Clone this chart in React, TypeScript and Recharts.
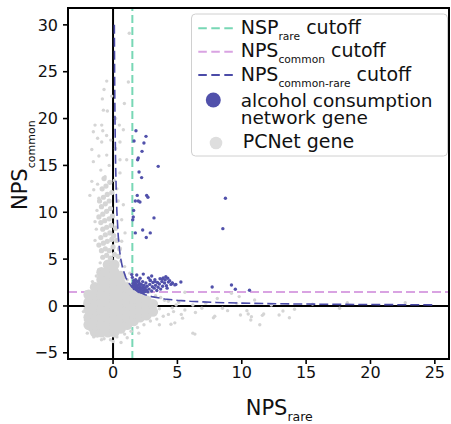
import { ScatterChart, Scatter, XAxis, YAxis, ReferenceLine, Label } from "recharts"

const FONT = "'DejaVu Sans', sans-serif"
const W = 451
const H = 424
// plot area box (the spines)
const PLOT = { left: 68, top: 8, right: 449, bottom: 359 }

const xTicks = [0, 5, 10, 15, 20, 25]
const yTicks = [-5, 0, 5, 10, 15, 20, 25, 30]
const xDomain = [-3.5, 26.1]
const yDomain = [-5.66, 31.8]

const nspRareCutoff = 1.5
const npsCommonCutoff = 1.5

// NPS_common-rare cutoff curve
const curveX = [0.1, 0.12, 0.15, 0.2, 0.25, 0.3, 0.4, 0.5, 0.6, 0.75, 1, 1.25, 1.5, 2, 2.5, 3, 4, 5, 6, 8, 10, 13, 16, 20, 25]
const curveY = [30, 25, 20, 15, 12, 10, 7.5, 6, 5, 4, 3, 2.4, 2, 1.5, 1.2, 1, 0.75, 0.6, 0.5, 0.375, 0.3, 0.23, 0.19, 0.15, 0.12]

// alcohol consumption network genes [NPS_rare, NPS_common]
const alcoholGenes: [number, number][] = [
  [1.78, 18.7], [2.56, 18.1], [1.63, 17.6], [2.4, 17.4], [2.25, 16.5], [1.96, 15.8], [1.91, 15.6],
  [3.51, 14.9], [2.02, 14.3], [2.22, 13.7], [1.88, 11.8], [2.61, 11.8], [2.71, 11.6], [1.73, 11.2],
  [1.96, 11.2], [2.09, 11.1], [8.73, 11.5], [1.6, 10.2], [1.57, 9.5], [3.18, 9.4], [1.53, 9.2],
  [8.53, 8.25], [1.73, 7.8], [2.3, 8.1], [2.89, 7.8], [2.58, 7.3],
  [7.7, 2.03], [9.2, 2.24], [9.5, 1.78], [10.6, 1.67], [5.27, 2.56], [4.88, 2.3],
  [1.5, 2.1], [1.55, 2.4], [1.6, 2.0], [1.6, 2.7], [1.65, 2.25], [1.7, 1.9], [1.7, 2.5], [1.75, 2.1],
  [1.8, 1.75], [1.8, 2.35], [1.85, 2.0], [1.9, 1.65], [1.9, 2.6], [1.95, 2.2], [2.0, 1.55], [2.0, 1.9],
  [2.05, 2.4], [2.1, 1.7], [2.1, 2.05], [2.15, 1.5], [2.2, 1.85], [2.2, 2.3], [2.25, 1.6], [2.3, 2.0],
  [2.35, 1.45], [2.4, 1.75], [2.4, 2.2], [2.5, 1.55], [2.5, 1.95], [2.55, 2.45], [2.6, 1.7], [2.65, 2.1],
  [2.7, 1.5], [1.65, 1.85], [1.75, 2.8], [2.0, 2.7], [2.3, 2.6],
  [2.8, 1.8], [2.85, 2.3], [2.9, 2.7], [3.0, 1.6], [3.05, 2.05], [3.1, 2.5], [3.2, 1.9], [3.25, 2.8],
  [3.3, 2.2], [3.4, 1.65], [3.45, 2.5], [3.5, 2.0], [3.6, 2.35], [3.65, 2.9], [3.7, 1.8], [3.8, 2.6],
  [3.85, 2.1], [3.9, 3.0], [2.75, 3.0], [3.0, 3.2],
  [4.0, 2.45], [4.05, 2.8], [4.15, 2.15], [4.25, 2.95], [4.3, 2.55], [4.4, 2.7], [4.5, 2.3], [4.6, 2.45],
  [4.2, 1.9], [4.8, 2.25], [4.1, 3.13], [4.6, 2.42],
  [1.45, 3.35], [1.5, 3.05], [1.84, 3.3], [2.1, 2.95], [2.35, 3.4], [2.87, 2.77], [3.26, 2.6], [3.82, 2.85],
]

// PCNet genes, dense core (drawn as big blobs)
const pcnetCore: [number, number][] = [
  [-1.9, -2.0], [-1.9, -1.2], [-1.9, -0.4], [-1.9, 0.4], [-1.9, 1.2],
  [-1.4, -2.8], [-1.4, -2.0], [-1.4, -1.2], [-1.4, -0.4], [-1.4, 0.4], [-1.4, 1.2], [-1.4, 2.0],
  [-0.9, -2.8], [-0.9, -2.0], [-0.9, -1.2], [-0.9, -0.4], [-0.9, 0.4], [-0.9, 1.2], [-0.9, 2.0], [-0.9, 2.8], [-0.9, 3.6],
  [-0.4, -2.8], [-0.4, -2.0], [-0.4, -1.2], [-0.4, -0.4], [-0.4, 0.4], [-0.4, 1.2], [-0.4, 2.0], [-0.4, 2.8], [-0.4, 3.6], [-0.4, 4.4],
  [0.1, -2.8], [0.1, -2.0], [0.1, -1.2], [0.1, -0.4], [0.1, 0.4], [0.1, 1.2], [0.1, 2.0], [0.1, 2.8], [0.1, 3.6], [0.1, 4.4],
  [0.6, -2.4], [0.6, -1.6], [0.6, -0.8], [0.6, 0.0], [0.6, 0.8], [0.6, 1.6], [0.6, 2.4], [0.6, 3.2],
  [1.1, -2.0], [1.1, -1.2], [1.1, -0.4], [1.1, 0.4], [1.1, 1.2], [1.1, 2.0],
  [1.6, -1.6], [1.6, -0.8], [1.6, 0.0], [1.6, 0.8], [1.6, 1.6],
  [2.1, -1.2], [2.1, -0.4], [2.1, 0.4], [2.1, 1.2],
  [2.6, -1.0], [2.6, -0.2], [2.6, 0.6],
  [3.1, -0.6], [3.1, 0.2],
]

// PCNet genes, plume above the core along NPS_rare ~ 0
const pcnetPlume: [number, number][] = [
  [-0.8, 5.2], [-0.5, 5.4], [-0.2, 5.1], [0.1, 5.5], [0.4, 5.3], [-0.9, 5.9], [-0.6, 6.1], [-0.3, 5.9],
  [0.0, 6.3], [0.5, 6.1], [-0.75, 6.7], [-0.45, 6.9], [-0.1, 7.1], [-0.95, 7.3], [-0.6, 7.6], [-0.25, 7.8],
  [0.05, 7.5], [-0.8, 8.2], [-0.5, 8.4], [-0.15, 8.6], [-0.95, 8.9], [-0.65, 9.1], [-0.3, 9.3], [-0.05, 9.6],
  [-0.8, 9.8], [-0.5, 10.1], [-0.2, 10.4], [-0.9, 10.6], [-0.6, 10.9], [-0.3, 11.2], [-0.75, 11.6],
  [-0.45, 11.9], [-0.1, 12.1], [-0.85, 12.5], [-0.55, 12.8], [-0.25, 13.2], [-0.7, 13.6], [-1.1, 6.5],
  [0.3, 7.0], [0.2, 8.3], [-1.1, 9.5], [-1.05, 11.2],
]

// PCNet genes, sparse points
const pcnetSparse: [number, number][] = [
  [1.26, 29.1], [1.19, 23.9], [-0.7, 23.1], [-0.49, 24.0], [-0.83, 22.1], [-0.44, 20.8], [0.88, 21.6],
  [-0.75, 20.9], [-1.4, 19.3], [-0.88, 19.3], [-0.8, 18.7], [-1.53, 18.6], [0.8, 18.8], [0.49, 19.3],
  [-0.18, 17.7], [-1.65, 16.7], [-0.88, 17.5], [0.54, 17.5], [-0.49, 16.1], [-1.53, 15.4], [-0.95, 14.5],
  [0.54, 15.6], [1.06, 15.6], [-1.65, 13.3], [-0.62, 13.8], [0.54, 14.2], [0.8, 10.8], [0.67, 9.2],
  [-1.4, 9.0], [0.93, 7.8], [-1.4, 7.0], [0.67, 6.9], [-1.2, 13.0], [-1.1, 11.5], [-1.25, 10.2],
  [0.3, 12.5], [0.2, 16.8], [-0.3, 15.0], [-1.1, 16.0], [0.1, 13.4], [-0.5, 18.2], [-1.2, 17.9],
  [0.2, 20.0], [-0.1, 22.4], [-1.8, 11.8], [-1.5, 12.4], [0.4, 11.2], [-1.3, 8.2],
  [-2.2, 0.2], [-2.3, -0.6], [-2.1, 1.5], [-2.15, -1.5], [-1.9, -2.4], [-1.78, -2.56], [-1.6, 2.6],
  [-1.3, 3.2], [-1.1, 3.9], [-1.0, 4.6], [-1.2, -3.2], [-0.7, -3.5], [-0.2, -3.6], [0.62, -3.9],
  [0.3, -3.3], [0.9, -3.0], [1.4, -2.7], [1.9, -2.3], [2.4, -2.0], [2.9, -1.6], [3.4, -1.4], [3.9, -1.1],
  [4.3, -0.9], [4.5, -1.95], [4.3, 0.5], [4.0, 0.6], [4.6, -0.2], [4.9, 0.1], [5.4, -1.3], [5.58, -0.43],
  [4.8, -1.8], [6.2, -2.9], [6.36, -3.0], [5.58, 1.46], [6.2, 0.1], [6.4, -0.7], [6.9, -0.25],
  [7.8, -1.25], [7.9, -1.1], [8.5, -0.25], [8.9, -0.5], [9.6, 0.28], [9.8, 1.0], [9.9, -0.96], [9.2, 1.35],
  [10.4, -0.5], [10.5, -0.85], [10.7, -1.5], [10.75, -1.14], [11.0, 0.64], [11.4, -2.0], [11.6, -1.0],
  [11.7, -0.85], [12.9, -0.96], [13.2, -0.53], [13.7, -1.25], [14.1, -0.35], [17.6, -0.25], [18.2, 0.35],
  [22.7, 0.35], [5.1, 0.4], [5.3, -0.9], [4.7, -0.6], [3.7, 0.9], [3.3, 1.1], [2.8, 1.5], [2.3, 1.9],
  [1.3, 3.5], [0.9, 4.2], [0.6, 4.8], [-2.0, -2.9], [-1.5, -3.3], [-0.9, -3.6], [0.0, -3.8], [1.1, -3.4],
  [2.0, -2.9], [3.6, -2.0], [7.2, 0.3], [8.1, 0.8], [12.3, 0.1], [15.5, 0.2], [3.6, -0.3], [1.1, 2.8],
]

const GREY = "#d5d5d5"
const BLUE = "#5151ab"
const GREEN = "#78d7b5"
const PINK = "#d9a3e2"
const CURVE = "#4b4ba8"

const toPts = (arr: [number, number][]) => arr.map(([x, y]) => ({ x, y }))
const curveData = curveX.map((x, i) => ({ x, y: curveY[i] }))

const dot = (r: number, fill: string) => (p: any) => <circle cx={p.cx} cy={p.cy} r={r} fill={fill} />

const XLabel = (props: any) => {
  const vb = props.viewBox
  return (
    <text x={vb.x + 177.7} y={vb.y + 56} fontSize={21} fontFamily={FONT} fill="#111">
      NPS<tspan fontSize={12.5} dy={6}>rare</tspan>
    </text>
  )
}

const YLabel = () => (
  <text x={26.7} y={210} transform="rotate(-90, 26.7, 210)" fontSize={21} fontFamily={FONT} fill="#111">
    NPS<tspan fontSize={11} dy={8}>common</tspan>
  </text>
)

function Overlay() {
  const lines = [
    { color: GREEN, y: 28.3, base: 34.3, main: "NSP", sub: "rare" },
    { color: PINK, y: 51.7, base: 56.7, main: "NPS", sub: "common" },
    { color: CURVE, y: 75, base: 81, main: "NPS", sub: "common-rare" },
  ]
  return (
    <svg width={W} height={H} style={{ position: "absolute", left: 0, top: 0, pointerEvents: "none" }}>
      <rect x={191.5} y={14} width={256} height={142} rx={4} fill="#fff" fillOpacity={0.8} stroke="#d0d0d0" />
      {lines.map((l) => (
        <g key={l.sub}>
          <line x1={198.3} x2={233.3} y1={l.y} y2={l.y} stroke={l.color} strokeWidth={2} strokeDasharray="8.5 4.5" />
          <text x={240.7} y={l.base} fontSize={19} fontFamily={FONT} fill="#111">
            {l.main}
            <tspan fontSize={10.7} dy={6}>{l.sub}</tspan>
            <tspan dy={-6}> cutoff</tspan>
          </text>
        </g>
      ))}
      <circle cx={213.3} cy={100} r={7.5} fill={BLUE} />
      <text x={240.7} y={106.7} fontSize={18.5} fontFamily={FONT} fill="#111">alcohol consumption</text>
      <text x={240.7} y={124} fontSize={18.5} fontFamily={FONT} fill="#111">network gene</text>
      <circle cx={216} cy={143} r={6.3} fill="#dedede" />
      <text x={242.7} y={147.7} fontSize={19} fontFamily={FONT} fill="#111">PCNet gene</text>
    </svg>
  )
}

export default function App() {
  const tick = { fontSize: 16, fontFamily: FONT, fill: "#111" }
  const tickLine = { stroke: "#000", strokeWidth: 1.6 }
  return (
    <div style={{ position: "absolute", left: 0, top: 0, width: W, height: H, background: "#fff" }}>
      <ScatterChart width={W} height={H} margin={{ top: PLOT.top, right: W - PLOT.right, bottom: 0, left: 0 }}>
        <XAxis
          type="number"
          dataKey="x"
          domain={xDomain}
          ticks={xTicks}
          allowDataOverflow
          height={H - PLOT.bottom}
          tickSize={5}
          tickMargin={3}
          tick={tick}
          tickLine={tickLine}
          axisLine={false}
        >
          <Label content={XLabel} />
        </XAxis>
        <YAxis
          type="number"
          dataKey="y"
          domain={yDomain}
          ticks={yTicks}
          allowDataOverflow
          width={PLOT.left}
          tickSize={5}
          tickMargin={5}
          tick={tick}
          tickFormatter={(v: number) => (v < 0 ? `\u2212${Math.abs(v)}` : String(v))}
          tickLine={tickLine}
          axisLine={false}
        >
          <Label content={YLabel} />
        </YAxis>

        <Scatter name="PCNet gene core" data={toPts(pcnetCore)} shape={dot(5.2, GREY)} isAnimationActive={false} />
        <Scatter name="PCNet gene plume" data={toPts(pcnetPlume)} shape={dot(2.6, GREY)} isAnimationActive={false} />
        <Scatter name="PCNet gene" data={toPts(pcnetSparse)} shape={dot(1.7, GREY)} isAnimationActive={false} />

        <ReferenceLine x={0} stroke="#000" strokeWidth={2} />
        <ReferenceLine y={0} stroke="#000" strokeWidth={2} />
        <ReferenceLine x={nspRareCutoff} stroke={GREEN} strokeWidth={2} strokeDasharray="8 4" />
        <ReferenceLine y={npsCommonCutoff} stroke={PINK} strokeWidth={2} strokeDasharray="9 4" />

        <Scatter
          name="NPS common-rare cutoff"
          data={curveData}
          line={{ stroke: CURVE, strokeWidth: 1.6, strokeDasharray: "9 4" }}
          shape={() => <g />}
          isAnimationActive={false}
        />
        <Scatter name="alcohol consumption network gene" data={toPts(alcoholGenes)} shape={dot(1.7, BLUE)} isAnimationActive={false} />
      </ScatterChart>
      {/* axes frame */}
      <div
        style={{
          position: "absolute",
          left: PLOT.left - 1,
          top: PLOT.top - 1,
          width: PLOT.right - PLOT.left + 2,
          height: PLOT.bottom - PLOT.top + 2,
          border: "2px solid #000",
          boxSizing: "border-box",
          pointerEvents: "none",
        }}
      />
      <Overlay />
    </div>
  )
}
